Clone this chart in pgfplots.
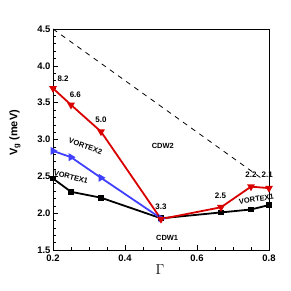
\documentclass[border=0pt]{standalone}
\usepackage{pgfplots}
\pgfplotsset{compat=1.18}
\usepackage{fontspec}
\setmainfont{Liberation Sans}
\begin{document}
\begin{tikzpicture}
\path[use as bounding box] (0,0) rectangle (291bp,291bp);
\begin{axis}[
  at={(53bp,41bp)}, anchor=south west,
  scale only axis, width=216bp, height=221bp,
  xmin=0.2, xmax=0.8, ymin=1.5, ymax=4.5,
  xtick={0.2,0.4,0.6,0.8}, ytick={1.5,2,...,4.5},
  minor x tick num=3, minor y tick num=4,
  xticklabels={0.2,0.4,0.6,0.8},
  yticklabels={1.5,2.0,2.5,3.0,3.5,4.0,4.5},
  tick align=inside, xtick pos=bottom, ytick pos=left,
  major tick length=5bp, minor tick length=3bp,
  tick style={black, line width=0.5pt},
  axis line style={line width=1pt},
  /pgf/number format/assume math mode=true,
  ticklabel style={font=\fontsize{9.5}{11}\selectfont\bfseries},
  xticklabel style={yshift=-1bp},
  yticklabel style={xshift=1bp},
  clip=false,
]
\addplot[black, line width=0.8pt, dash pattern=on 5bp off 5bp] coordinates {(0.2,4.5) (0.78,2.47)};
\addplot[black, line width=1.8pt, mark=square*, mark size=2pt] coordinates {
(0.2,2.47) (0.25,2.29) (0.3333,2.21) (0.5,1.93) (0.6667,2.01) (0.75,2.05) (0.8,2.11)};
\addplot[blue!75!white, line width=1.8pt, mark=triangle*, mark size=2.8pt, mark options={rotate=-90}] coordinates {
(0.2,2.845) (0.25,2.76) (0.3333,2.48) (0.5,1.93)};
\addplot[red!85!black, line width=1.8pt, mark=triangle*, mark size=2.8pt, mark options={rotate=180}] coordinates {
(0.2,3.695) (0.25,3.47) (0.3333,3.107) (0.5,1.92) (0.6667,2.08) (0.75,2.36) (0.8,2.34)};
\begin{scope}[every node/.style={font=\fontsize{8}{9}\selectfont\bfseries}]
\node at (axis cs:0.228,3.83) {8.2};
\node at (axis cs:0.262,3.61) {6.6};
\node at (axis cs:0.3333,3.27) {5.0};
\node at (axis cs:0.5,2.09) {3.3};
\node at (axis cs:0.665,2.23) {2.5};
\node at (axis cs:0.75,2.52) {2.2};
\node at (axis cs:0.795,2.52) {2.1};
\end{scope}
\begin{scope}[every node/.style={font=\fontsize{7.5}{9}\selectfont\bfseries, inner sep=1pt}]
\node[rotate=-20] at (axis cs:0.29,2.91) {VORTEX2};
\node[rotate=-15] at (axis cs:0.25,2.49) {VORTEX1};
\node[rotate=8] at (axis cs:0.765,2.19) {VORTEX1};
\node at (axis cs:0.505,2.91) {CDW2};
\node at (axis cs:0.517,1.66) {CDW1};
\end{scope}
\end{axis}
\node[rotate=90, font=\fontsize{11}{13}\selectfont\bfseries] at (15bp,158bp) {V$_{\mathbf g}$ (meV)};
\node[font=\fontsize{14}{16}\selectfont] at (160bp,21bp) {$\Gamma$};
\end{tikzpicture}
\end{document}
